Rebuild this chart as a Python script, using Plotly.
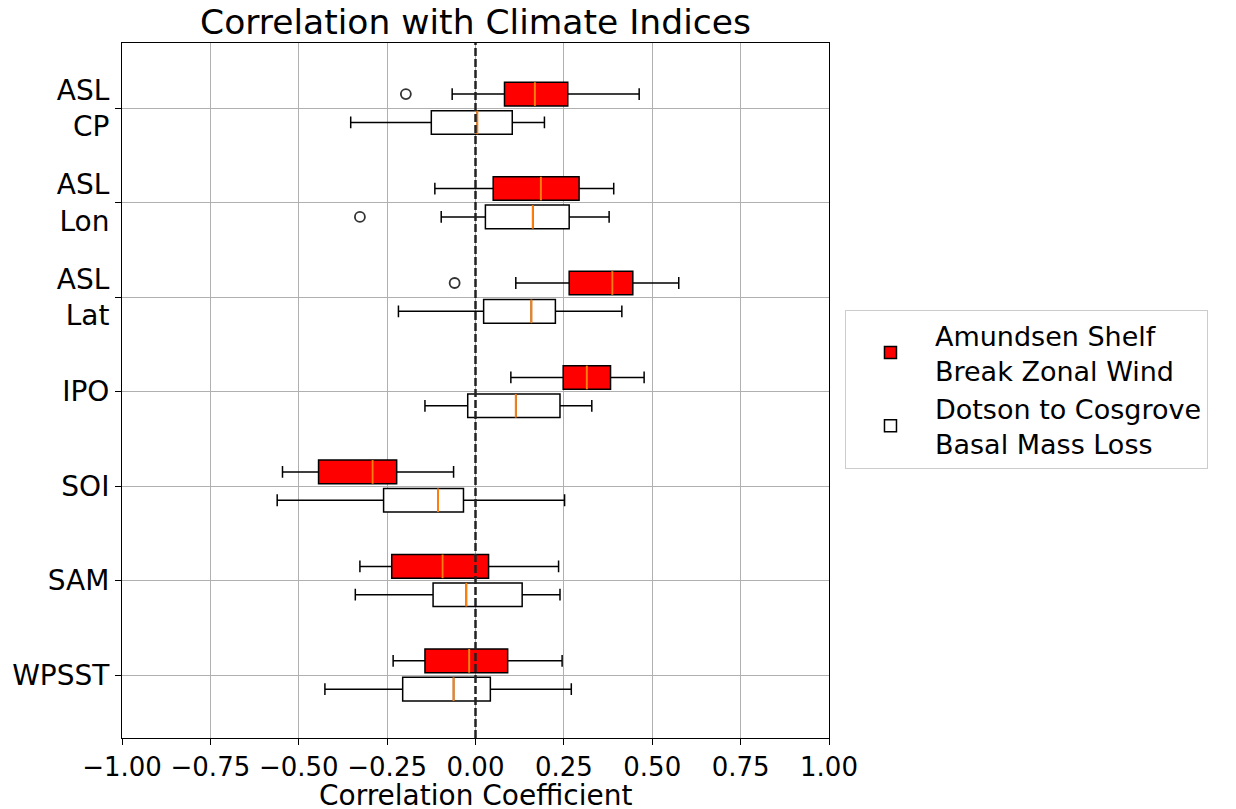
import plotly.graph_objects as go

# ---- data ----
categories = ["ASL<br>CP", "ASL<br>Lon", "ASL<br>Lat", "IPO", "SOI", "SAM", "WPSST"]
positions = [7, 6, 5, 4, 3, 2, 1]

# Amundsen Shelf Break Zonal Wind (red)
wind_low = [-0.066, -0.115, 0.114, 0.100, -0.546, -0.327, -0.233]
wind_q1 = [0.082, 0.050, 0.265, 0.248, -0.444, -0.237, -0.143]
wind_med = [0.168, 0.185, 0.387, 0.315, -0.291, -0.093, -0.018]
wind_q3 = [0.261, 0.293, 0.445, 0.382, -0.223, 0.037, 0.091]
wind_high = [0.463, 0.391, 0.575, 0.477, -0.062, 0.235, 0.245]
wind_outliers = [[-0.197], [], [-0.059], [], [], [], []]

# Dotson to Cosgrove Basal Mass Loss (white)
melt_low = [-0.353, -0.097, -0.218, -0.143, -0.561, -0.340, -0.426]
melt_q1 = [-0.125, 0.028, 0.023, -0.022, -0.260, -0.120, -0.206]
melt_med = [0.005, 0.162, 0.158, 0.114, -0.106, -0.026, -0.062]
melt_q3 = [0.104, 0.265, 0.226, 0.239, -0.034, 0.132, 0.042]
melt_high = [0.195, 0.378, 0.414, 0.329, 0.252, 0.239, 0.271]
melt_outliers = [[], [-0.327], [], [], [], [], []]

x_ticks = [-1.0, -0.75, -0.5, -0.25, 0.0, 0.25, 0.5, 0.75, 1.0]

OFFSET = 0.15
BOXW = 0.25
FONT = "DejaVu Sans"

fig = go.Figure()

series = [
    ("Amundsen Shelf<br>Break Zonal Wind", "red", +OFFSET,
     wind_low, wind_q1, wind_med, wind_q3, wind_high, wind_outliers),
    ("Dotson to Cosgrove<br>Basal Mass Loss", "white", -OFFSET,
     melt_low, melt_q1, melt_med, melt_q3, melt_high, melt_outliers),
]

for name, color, off, lo, q1, med, q3, hi, outl in series:
    ys = [p + off for p in positions]
    fig.add_trace(go.Box(
        y=ys, q1=q1, median=med, q3=q3, lowerfence=lo, upperfence=hi,
        orientation="h", name=name, fillcolor=color,
        line=dict(color="black", width=1.5), width=BOXW, whiskerwidth=0.5,
        boxpoints=False, showlegend=True, hoverinfo="skip",
    ))

for name, color, off, lo, q1, med, q3, hi, outl in series:
    ys = [p + off for p in positions]
    mx, my = [], []
    for m, y in zip(med, ys):
        mx += [m, m, None]
        my += [y - BOXW / 2, y + BOXW / 2, None]
    fig.add_trace(go.Scatter(x=mx, y=my, mode="lines",
                             line=dict(color="#ff7f0e", width=2),
                             showlegend=False, hoverinfo="skip"))
    ox, oy = [], []
    for vals, y in zip(outl, ys):
        for v in vals:
            ox.append(v)
            oy.append(y)
    if ox:
        fig.add_trace(go.Scatter(x=ox, y=oy, mode="markers",
                                 marker=dict(symbol="circle-open", size=10,
                                             color="#333333", line=dict(width=1.8)),
                                 showlegend=False, hoverinfo="skip"))

fig.add_vline(x=0, line=dict(color="#222222", width=2.5, dash="8px,3px"),
              layer="above")

W, H = 1236, 809
L, R, T, B = 122, 407, 43, 71
plot_h = H - T - B

fig.update_layout(
    width=W, height=H,
    margin=dict(l=L, r=R, t=T, b=B),
    paper_bgcolor="white", plot_bgcolor="white",
    boxmode="overlay",
    font=dict(family=FONT, color="black"),
    title=dict(text="Correlation with Climate Indices", x=0.5, xref="paper",
               y=1 - 22 / H, yref="container", yanchor="middle",
               font=dict(size=34.5, family=FONT, color="black")),
    legend=dict(x=1.0226, y=1 - (310 - T) / plot_h, xanchor="left", yanchor="top",
                bordercolor="#cccccc", borderwidth=1, bgcolor="white",
                font=dict(size=27, family=FONT), traceorder="normal",
                itemwidth=79, tracegroupgap=4,
                entrywidth=320, entrywidthmode="pixels"),
    annotations=[dict(text="Correlation Coefficient", x=0.5, xref="paper",
                      y=-(795 - (H - B)) / plot_h, yref="paper",
                      xanchor="center", yanchor="middle", showarrow=False,
                      font=dict(size=28, family=FONT, color="black"))],
)

fig.update_xaxes(
    range=[-1.0, 1.0], tickvals=x_ticks,
    ticktext=[f"{v:.2f}".replace("-", "\u2212") for v in x_ticks],
    tickfont=dict(size=26, family=FONT), ticks="outside", ticklen=6,
    tickcolor="black", showline=True, linecolor="black", linewidth=1,
    mirror=True, showgrid=True, gridcolor="#b0b0b0", gridwidth=1,
    zeroline=False, automargin=False,
)
fig.update_yaxes(
    range=[0.333, 7.691], tickvals=positions, ticktext=categories,
    tickfont=dict(size=28, family=FONT), ticks="outside", ticklen=6,
    tickcolor="black", showline=True, linecolor="black", linewidth=1,
    mirror=True, showgrid=True, gridcolor="#b0b0b0", gridwidth=1,
    zeroline=False, automargin=False,
)

fig.write_html("out.html",
               config={"displayModeBar": False},
               post_script="document.body.style.margin='0';"
                           "document.body.style.overflow='hidden';")
